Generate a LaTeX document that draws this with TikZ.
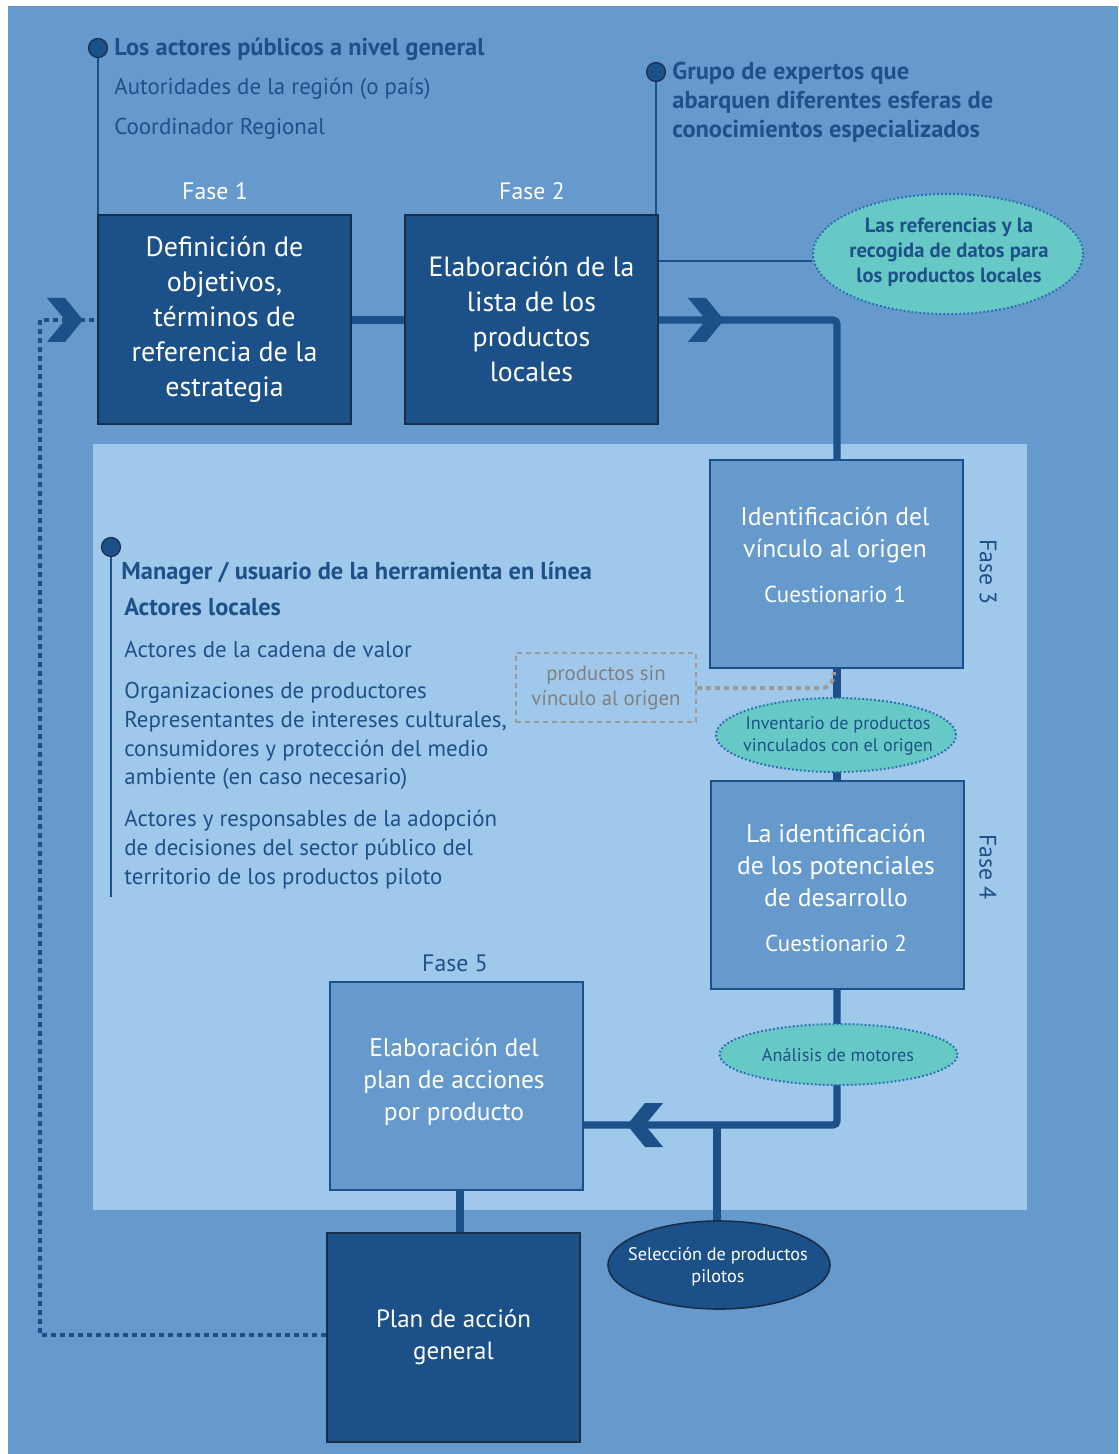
\documentclass[tikz,border=0pt]{standalone}
\usepackage{fontspec}
\setmainfont{PT Sans}
\usetikzlibrary{shapes.geometric}
\definecolor{bgblue}{HTML}{6699CC}
\definecolor{panelblue}{HTML}{9FC8EA}
\definecolor{navy}{HTML}{1C5088}
\definecolor{inkblue}{HTML}{1E5189}
\definecolor{teal}{HTML}{66C9C6}
\definecolor{dotblue}{HTML}{2A6DB5}
\definecolor{edge}{HTML}{1A2E4A}
\definecolor{greytxt}{HTML}{808080}
\definecolor{greyline}{HTML}{9A9A9A}
\tikzset{
  darkbox/.style={draw=edge,line width=1pt,fill=navy,minimum width=126.5pt,minimum height=104.5pt,
    text=white,align=center,inner sep=0pt,font=\fontsize{14}{17.5}\selectfont},
  midbox/.style={draw=navy,line width=1pt,fill=bgblue,minimum width=126.5pt,minimum height=104pt,
    text=white,align=center,inner sep=0pt,font=\fontsize{12.8}{16}\selectfont},
  boxtext/.style={text=white,align=center,inner sep=0pt,font=\fontsize{12.8}{16}\selectfont},
  phase/.style={font=\fontsize{11.9}{13}\selectfont,inner sep=0pt},
  flow/.style={draw=navy,line width=3.6pt,rounded corners=2pt},
  loopback/.style={draw=navy,line width=2.2pt,dash pattern=on 2.5pt off 2pt},
  thin/.style={draw=navy,line width=1pt},
  bullet/.style={circle,fill=navy,draw=edge,line width=0.6pt,minimum size=9.5pt,inner sep=0pt},
  hdr/.style={text=inkblue,anchor=west,inner sep=0pt,font=\fontsize{11.45}{14.35}\selectfont},
  hdrb/.style={hdr,font=\fontsize{12.2}{14.5}\selectfont\bfseries},
  note/.style={ellipse,fill=teal,draw=dotblue,line width=1pt,dash pattern=on 0.9pt off 1.1pt,inner sep=0pt},
  notetext/.style={text=inkblue,align=center,inner sep=0pt,font=\fontsize{9.1}{11}\selectfont},
  chev/.style={fill=navy,draw=none}
}
\begin{document}
\begin{tikzpicture}[x=0.5pt,y=-0.5pt]
% canvas
\useasboundingbox (0,0) rectangle (1118,1454);
\fill[white] (0,0) rectangle (1118,1454);
\fill[bgblue] (8,6) rectangle (1118,1454);
\fill[panelblue] (93,444) rectangle (1027,1210);

% main boxes
\node[darkbox] (f1) at (224.5,319.5) {Definición de\\objetivos,\\términos de\\referencia de la\\estrategia};
\node[darkbox,font=\fontsize{13.9}{17.5}\selectfont] (f2) at (531.5,319.5) {Elaboración de la\\lista de los\\productos\\locales};
\node[midbox] (f3) at (836.5,564) {};
\node[boxtext] (t3) at (835,555)
  {Identificación del\\vínculo al origen\\[6.5pt]\fontsize{11.5}{13}\selectfont Cuestionario 1};
\node[midbox] (f4) at (837.5,885) {};
\node[boxtext] (t4) at (836,888)
  {La identificación\\de los potenciales\\de desarrollo\\[6.5pt]\fontsize{11.5}{13}\selectfont Cuestionario 2};
\node[midbox,font=\fontsize{12.75}{16}\selectfont] (f5) at (456,1086) {};
\node[boxtext,font=\fontsize{12.75}{16}\selectfont] (t5) at (454,1082) {Elaboración del\\plan de acciones\\por producto};
\node[darkbox,font=\fontsize{12.5}{16}\selectfont] (plan) at (453.5,1337) {Plan de acción\\general};

% phase labels
\node[phase,text=white] (p1) at (215,191) {Fase 1};
\node[phase,text=white] (p2) at (532,191) {Fase 2};
\node[phase,text=inkblue,rotate=-90] (p3) at (988,572) {Fase 3};
\node[phase,text=inkblue,rotate=-90] (p4) at (988,867) {Fase 4};
\node[phase,text=inkblue] (p5) at (455,963) {Fase 5};

% notes
\node[note,minimum width=135pt,minimum height=60pt] (ref) at (948,254) {};
\node[notetext,font=\fontsize{10.3}{12.5}\selectfont\bfseries] (reft) at (949,252)
  {Las referencias y la\\recogida de datos para\\los productos locales};
\node[draw=greyline,line width=1.2pt,dash pattern=on 2.5pt off 2pt,minimum width=90pt,minimum height=34.5pt,
  text=greytxt,align=center,inner sep=0pt,font=\fontsize{10.4}{12.5}\selectfont] (sin) at (606,687.5)
  {productos sin\\vínculo al origen};

% flow connectors
\coordinate (c1) at (837,320);
\coordinate (c2) at (837,1125);
\coordinate (c3) at (717,1125);
\draw[flow] (f1.east |- c1) -- (f2.west |- c1);
\draw[flow] (f2.east |- c1) -- (c1) -- (f3.north -| c1);
\draw[flow] (f3.south -| c1) -- (f4.north -| c1);
\draw[flow] (f4.south -| c1) -- (c2) -- (f5.east |- c2);
\draw[flow,rounded corners=0pt] (c3) -- (c3 |- 0,1222);
\coordinate (c4) at (460,1200);
\draw[flow,rounded corners=0pt] (f5.south -| c4) -- (plan.north -| c4);

% notes sitting on the flow line
\node[note,minimum width=120pt,minimum height=37pt] (inv) at (836,735) {};
\node[notetext] (invt) at (838,736) {Inventario de productos\\vinculados con el origen};
\node[note,minimum width=119pt,minimum height=30.5pt] (mot) at (838.5,1054.5) {};
\node[notetext] (mott) at (838,1055) {Análisis de motores};
\node[ellipse,fill=navy,draw=edge,line width=0.8pt,minimum width=111pt,minimum height=44pt,inner sep=0pt] (sel) at (719,1265) {};
\node[notetext,text=white] (selt) at (718,1267) {Selección de productos\\pilotos};

% loop back from the general plan to phase 1
\coordinate (l1) at (40,1335);
\coordinate (l2) at (40,320);
\draw[loopback] (plan.west |- l1) -- (l1) -- (l2) -- (f1.west |- l2);

% chevrons
\fill[chev] (688,298) -- (706,298) -- (724,320) -- (706,342) -- (688,342) -- (706,320) -- cycle;
\fill[chev] (47,298) -- (65,298) -- (83,320) -- (65,342) -- (47,342) -- (65,320) -- cycle;
\fill[chev] (663,1103) -- (645,1103) -- (627,1125) -- (645,1147) -- (663,1147) -- (645,1125) -- cycle;

% side links
\coordinate (s1) at (700,261);
\draw[thin] (f2.east |- s1) -- (ref.west |- s1);
\coordinate (s2) at (822,688);
\draw[greyline,line width=2pt,dash pattern=on 2.5pt off 2pt] (sin.east |- s2) -- (s2) to[out=0,in=-90] (834,672);

% public actors
\node[bullet] (b1) at (98,48) {};
\draw[thin,line width=1.2pt] (b1) -- (f1.north -| b1);
\node[hdrb] (a1) at (114,49) {Los actores públicos a nivel general};
\node[hdr] (a2) at (114,89) {Autoridades de la región (o país)};
\node[hdr] (a3) at (114,129) {Coordinador Regional};

% experts
\node[bullet] (b2) at (656,72) {};
\draw[thin,line width=1.2pt] (b2) -- (b2 |- f2.north);
\node[hdrb,align=left,anchor=north west] (e1) at (672,62)
  {Grupo de expertos que\\abarquen diferentes esferas de\\conocimientos especializados};

% local actors
\node[bullet] (b3) at (111,547) {};
\coordinate (b3end) at (111,897);
\draw[thin,line width=1.2pt] (b3) -- (b3end);
\node[hdrb] (m1) at (121,573) {Manager / usuario de la herramienta en línea};
\node[hdrb] (m2) at (124,607) {Actores locales};
\node[hdr] (m3) at (124,649) {Actores de la cadena de valor};
\node[hdr,align=left,anchor=north west] (m4) at (124,682)
  {Organizaciones de productores\\Representantes de intereses culturales,\\consumidores y protección del medio\\ambiente (en caso necesario)};
\node[hdr,align=left,anchor=north west] (m5) at (124,810)
  {Actores y responsables de la adopción\\de decisiones del sector público del\\territorio de los productos piloto};
\end{tikzpicture}
\end{document}
